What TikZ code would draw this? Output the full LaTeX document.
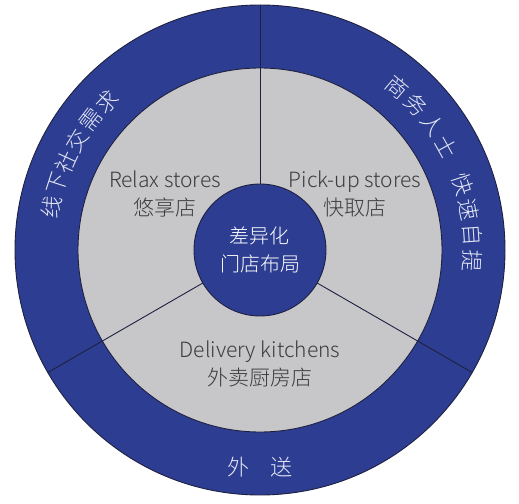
\documentclass[tikz,border=0pt]{standalone}
\usepackage{fontspec}
\setmainfont{Noto Sans CJK SC}[UprightFont=* Light]
\usepackage{xcolor}
\usetikzlibrary{positioning}

\definecolor{ringblue}{HTML}{2D3E92}
\definecolor{segrey}{HTML}{C7C7C9}
\definecolor{edgedark}{HTML}{1E2040}
\definecolor{labelgrey}{HTML}{3C3C3C}
\definecolor{ringwhite}{HTML}{E4E8F6}

\tikzset{
  disc/.style={circle, draw=edgedark, line width=0.9pt, inner sep=0pt, outer sep=0pt},
  ringtext/.style={text=ringwhite, font=\fontsize{22}{26}\selectfont, inner sep=0pt},
  seglabel/.style={text=labelgrey, font=\fontsize{21}{28}\selectfont, align=center, inner sep=0pt},
}

\begin{document}
\begin{tikzpicture}[x=1pt, y=1pt]
                \useasboundingbox (-260, -253) rectangle (259, 250);

                \node[disc, fill=ringblue, minimum size=490pt] (outer) at (0, 0) {};
                \node[disc, fill=segrey, minimum size=364pt] (mid) at (0, 0) {};
                \node[disc, fill=ringblue, minimum size=132pt] (hub) at (0, 0) {};

                % draw the three dividing lines
                \draw[edgedark, line width=0.9pt] (hub.90) -- (outer.90);
                \draw[edgedark, line width=0.9pt] (hub.210) -- (outer.210);
                \draw[edgedark, line width=0.9pt] (hub.330) -- (outer.330);

                \node[text=white, font=\fontsize{20}{28}\selectfont, align=center, inner sep=0pt] (core) at (0, 0) {差异化\\门店布局};

                \node[seglabel] (relax) at (-95, 56) {Relax stores\\悠享店};
                \node[seglabel] (pickup) at (95, 56) {Pick-up stores\\快取店};
                \node[seglabel] (delivery) at (0, -114) {Delivery kitchens\\外卖厨房店};

                % ring texts along the arc
                \foreach \ch/\ang [count=\i] in {线/168.5, 下/162, 社/155.5, 交/149, 需/142.5, 求/136}
                    \node[ringtext, rotate=\ang-90] (social\i) at (\ang:213) {\ch};
                \foreach \ch/\ang [count=\i] in {商/50, 务/43, 人/36, 士/29, 快/18, 速/11, 自/4, 提/-3}
                    \node[ringtext, rotate=\ang-90] (business\i) at (\ang:213) {\ch};

                \node[ringtext] (takeaway) at (0, -217) {外\hspace{22pt}送};
            \end{tikzpicture}
\end{document}
